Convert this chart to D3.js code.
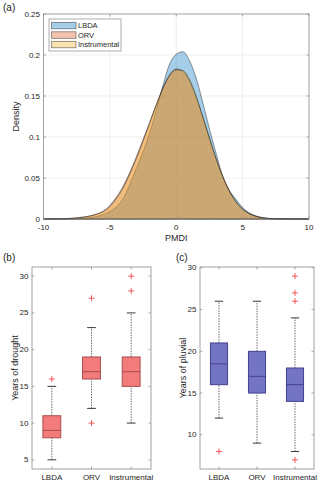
<!DOCTYPE html>
<html>
<head>
<meta charset="utf-8">
<script src="https://cdn.jsdelivr.net/npm/d3@7"></script>
<style>
  body { margin: 0; background: #fff; }
  text { font-family: 'Liberation Sans', Arial, sans-serif; fill: #262626; }
</style>
</head>
<body>
<div id="chart"></div>
<script>
// PMDI grid and kernel densities
const pmdiGrid = [-10, -9.5, -9, -8.5, -8, -7.5, -7, -6.5, -6, -5.5, -5, -4.5, -4, -3.5, -3, -2.5, -2, -1.5, -1, -0.5,
  0, 0.5, 1, 1.5, 2, 2.5, 3, 3.5, 4, 4.5, 5, 5.5, 6, 6.5, 7, 7.5, 8, 8.5, 9, 9.5, 10]

const lbdaDensity = [0, 0, 0.0001, 0.0001, 0.0002, 0.0004, 0.0009, 0.0017, 0.003, 0.0055, 0.009, 0.015, 0.025, 0.042,
  0.062, 0.082, 0.105, 0.133, 0.163, 0.189, 0.201, 0.204, 0.193, 0.172, 0.142, 0.11, 0.08, 0.052, 0.035, 0.024,
  0.014, 0.0075, 0.0038, 0.0017, 0.0008, 0.0003, 0.0001, 0, 0, 0, 0]

const orvDensity = [0, 0.0001, 0.0002, 0.0004, 0.0008, 0.0014, 0.0024, 0.0038, 0.006, 0.0095, 0.0165, 0.027, 0.04,
  0.057, 0.076, 0.097, 0.118, 0.14, 0.16, 0.176, 0.183, 0.18, 0.168, 0.148, 0.124, 0.098, 0.073, 0.052, 0.034,
  0.021, 0.012, 0.0065, 0.0033, 0.0015, 0.0006, 0.0002, 0.0001, 0, 0, 0, 0]

const instrumentalDensity = [0, 0.0001, 0.0002, 0.0004, 0.0007, 0.0013, 0.0022, 0.0036, 0.0058, 0.0092, 0.015,
  0.025, 0.038, 0.055, 0.074, 0.095, 0.117, 0.139, 0.159, 0.175, 0.182, 0.181, 0.17, 0.15, 0.125, 0.099, 0.074,
  0.052, 0.034, 0.021, 0.012, 0.0065, 0.0033, 0.0015, 0.0006, 0.0002, 0.0001, 0, 0, 0, 0]

const seriesNames = ['LBDA', 'ORV', 'Instrumental']
const seriesColors = ['#0072bd', '#d95319', '#edb120']

const densityXTicks = [-10, -5, 0, 5, 10]
const densityYTicks = [0, 0.05, 0.1, 0.15, 0.2, 0.25]

// box plot stats: [whiskerLow, q1, median, q3, whiskerHigh]
const droughtStats = [[5, 8, 9, 11, 15], [12, 16, 17, 19, 23], [10, 15, 17, 19, 25]]
const droughtOutliers = [[16], [10, 27], [28, 30]]
const droughtTicks = [5, 10, 15, 20, 25, 30]

const pluvialStats = [[12, 16, 18.5, 21, 26], [9, 15, 17, 20, 26], [8, 14, 16, 18, 24]]
const pluvialOutliers = [[8], [], [7, 26, 27, 29]]
const pluvialTicks = [10, 15, 20, 25, 30]

const svg = d3
  .select('#chart')
  .append('svg')
  .attr('width', 320)
  .attr('height', 482)

const axisColor = '#8a8a8a'
const tickLen = 2.5

function drawFrame(g, x, y, xTicks, yTicks, xFmt, yFmt) {
  const [x0, x1] = x.range()
  const [y0, y1] = y.range()
  // mirrored inward ticks like matlab
  xTicks.forEach(t => {
    g.append('line').attr('x1', x(t)).attr('x2', x(t)).attr('y1', y0).attr('y2', y0 - tickLen)
      .attr('stroke', axisColor).attr('stroke-width', 0.7)
    g.append('line').attr('x1', x(t)).attr('x2', x(t)).attr('y1', y1).attr('y2', y1 + tickLen)
      .attr('stroke', axisColor).attr('stroke-width', 0.7)
    g.append('text').text(xFmt(t)).attr('x', x(t)).attr('y', y0 + 10.5)
      .attr('text-anchor', 'middle').attr('font-size', 8)
  })
  yTicks.forEach(t => {
    g.append('line').attr('x1', x0).attr('x2', x0 + tickLen).attr('y1', y(t)).attr('y2', y(t))
      .attr('stroke', axisColor).attr('stroke-width', 0.7)
    g.append('line').attr('x1', x1).attr('x2', x1 - tickLen).attr('y1', y(t)).attr('y2', y(t))
      .attr('stroke', axisColor).attr('stroke-width', 0.7)
    g.append('text').text(yFmt(t)).attr('x', x0 - 3.5).attr('y', y(t) + 2.5)
      .attr('text-anchor', 'end').attr('font-size', 8)
  })
  g.append('rect')
    .attr('x', x0).attr('y', y1)
    .attr('width', x1 - x0).attr('height', y0 - y1)
    .attr('fill', 'none').attr('stroke', axisColor).attr('stroke-width', 0.8)
}

/* ---------- panel (a) densities ---------- */
const xDensity = d3.scaleLinear().domain([-10, 10]).range([43.5, 309])
const yDensity = d3.scaleLinear().domain([0, 0.25]).range([219, 14])

const gA = svg.append('g')

densityXTicks.slice(1, -1).forEach(t => {
  gA.append('line').attr('x1', xDensity(t)).attr('x2', xDensity(t))
    .attr('y1', yDensity(0)).attr('y2', yDensity(0.25))
    .attr('stroke', '#e6e6e6').attr('stroke-width', 0.7)
})
densityYTicks.slice(1, -1).forEach(t => {
  gA.append('line').attr('x1', xDensity(-10)).attr('x2', xDensity(10))
    .attr('y1', yDensity(t)).attr('y2', yDensity(t))
    .attr('stroke', '#e6e6e6').attr('stroke-width', 0.7)
})

const area = d3.area()
  .x(d => xDensity(d[0]))
  .y0(yDensity(0))
  .y1(d => yDensity(d[1]))
  .curve(d3.curveMonotoneX)

const densities = [lbdaDensity, orvDensity, instrumentalDensity]
densities.forEach((dens, i) => {
  gA.append('path')
    .datum(pmdiGrid.map((p, j) => [p, dens[j]]))
    .attr('d', area)
    .attr('fill', seriesColors[i])
    .attr('fill-opacity', 0.35)
    .attr('stroke', '#000')
    .attr('stroke-opacity', 0.55)
    .attr('stroke-width', 0.7)
})

drawFrame(gA, xDensity, yDensity, densityXTicks, densityYTicks, d => d, d => d)

// legend
const legend = gA.append('g')
legend.append('rect')
  .attr('x', 49).attr('y', 19).attr('width', 72).attr('height', 32)
  .attr('fill', '#fff').attr('stroke', '#8a8a8a').attr('stroke-width', 0.7)
seriesNames.forEach((name, i) => {
  legend.append('rect')
    .attr('x', 51.5).attr('y', 22.3 + i * 9.5)
    .attr('width', 24.5).attr('height', 6.5)
    .attr('fill', seriesColors[i]).attr('fill-opacity', 0.35)
    .attr('stroke', '#000').attr('stroke-opacity', 0.55).attr('stroke-width', 0.7)
  legend.append('text').text(name)
    .attr('x', 78).attr('y', 28.3 + i * 9.5)
    .attr('font-size', 7.5)
})

gA.append('text').text('(a)').attr('x', 3).attr('y', 11).attr('font-size', 10)
gA.append('text').text('PMDI').attr('x', xDensity(0)).attr('y', 240.5)
  .attr('text-anchor', 'middle').attr('font-size', 9)
gA.append('text').text('Density')
  .attr('transform', 'translate(18.5,' + yDensity(0.125) + ') rotate(-90)')
  .attr('text-anchor', 'middle').attr('font-size', 9)

/* ---------- panels (b) and (c) box plots ---------- */
function boxPanel(left, right, stats, outliers, ticks, fill, edge, label, labelX, title, titleX) {
  const g = svg.append('g')
  const allVals = d3.merge([d3.merge(stats), d3.merge(outliers)])
  const [lo, hi] = d3.extent(allVals)
  const pad = (hi - lo) * 0.05
  const x = d3.scaleLinear().domain([0.5, 3.5]).range([left, right])
  const y = d3.scaleLinear().domain([lo - pad, hi + pad]).range([469, 267])
  const half = 0.225
  const capHalf = 0.11

  stats.forEach((s, i) => {
    const c = i + 1
    // whiskers
    g.append('line').attr('x1', x(c)).attr('x2', x(c)).attr('y1', y(s[0])).attr('y2', y(s[1]))
      .attr('stroke', '#555').attr('stroke-width', 0.9).attr('stroke-dasharray', '1.4,1.2')
    g.append('line').attr('x1', x(c)).attr('x2', x(c)).attr('y1', y(s[3])).attr('y2', y(s[4]))
      .attr('stroke', '#555').attr('stroke-width', 0.9).attr('stroke-dasharray', '1.4,1.2')
    ;[s[0], s[4]].forEach(v => {
      g.append('line').attr('x1', x(c - capHalf)).attr('x2', x(c + capHalf)).attr('y1', y(v)).attr('y2', y(v))
        .attr('stroke', '#222').attr('stroke-width', 0.9)
    })
    g.append('rect')
      .attr('x', x(c - half)).attr('y', y(s[3]))
      .attr('width', x(c + half) - x(c - half)).attr('height', y(s[1]) - y(s[3]))
      .attr('fill', fill).attr('stroke', edge).attr('stroke-width', 1)
    g.append('line').attr('x1', x(c - half)).attr('x2', x(c + half)).attr('y1', y(s[2])).attr('y2', y(s[2]))
      .attr('stroke', edge).attr('stroke-width', 1)
    outliers[i].forEach(v => {
      g.append('path')
        .attr('d', 'M' + (x(c) - 3) + ',' + y(v) + 'h6M' + x(c) + ',' + (y(v) - 3) + 'v6')
        .attr('stroke', '#f04848').attr('stroke-width', 0.9).attr('fill', 'none')
    })
  })

  drawFrame(g, x, y, [1, 2, 3], ticks, d => seriesNames[d - 1], d => d)

  g.append('text').text(title).attr('x', titleX).attr('y', 261).attr('font-size', 10)
  g.append('text').text(label)
    .attr('transform', 'translate(' + labelX + ',' + (469 + 267) / 2 + ') rotate(-90)')
    .attr('text-anchor', 'middle').attr('font-size', 9)
}

boxPanel(32, 151, droughtStats, droughtOutliers, droughtTicks, '#f37b7b', '#a84c4c',
  'Years of drought', 17.5, '(b)', 3)
boxPanel(200, 314, pluvialStats, pluvialOutliers, pluvialTicks, '#7474c4', '#42428e',
  'Years of pluvial', 185.5, '(c)', 176)
</script>
</body>
</html>
